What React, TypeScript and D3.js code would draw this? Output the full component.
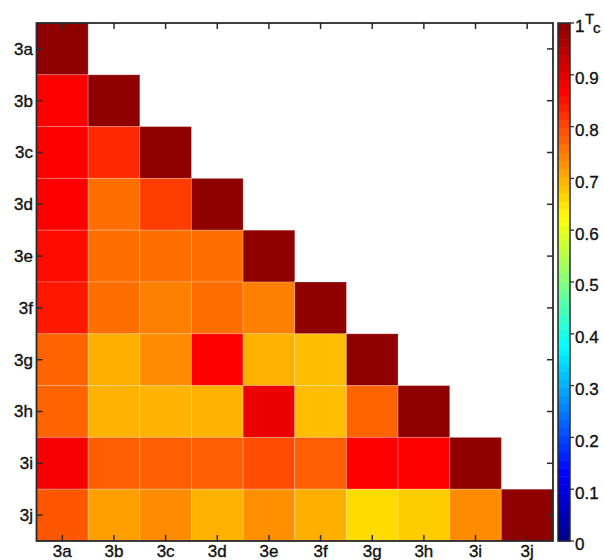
import React from "react";
import * as d3 from "d3";

const labels = ["3a", "3b", "3c", "3d", "3e", "3f", "3g", "3h", "3i", "3j"];

// lower-triangular T_c values, row i has i+1 entries
const row3a = [1];
const row3b = [0.875, 1];
const row3c = [0.875, 0.835, 1];
const row3d = [0.875, 0.767, 0.815, 1];
const row3e = [0.866, 0.767, 0.767, 0.767, 1];
const row3f = [0.852, 0.767, 0.75, 0.767, 0.75, 1];
const row3g = [0.777, 0.703, 0.738, 0.875, 0.7, 0.69, 1];
const row3h = [0.777, 0.7, 0.7, 0.7, 0.895, 0.69, 0.777, 1];
const row3i = [0.882, 0.783, 0.783, 0.783, 0.8, 0.783, 0.875, 0.875, 1];
const row3j = [0.79, 0.718, 0.738, 0.7, 0.733, 0.703, 0.66, 0.675, 0.738, 1];
const rows = [row3a, row3b, row3c, row3d, row3e, row3f, row3g, row3h, row3i, row3j];

const cbTicks = [0, 0.1, 0.2, 0.3, 0.4, 0.5, 0.6, 0.7, 0.8, 0.9, 1];
const cbLabels = ["0", "0.1", "0.2", "0.3", "0.4", "0.5", "0.6", "0.7", "0.8", "0.9", "1"];

const jetStops = [0, 0.125, 0.375, 0.625, 0.875, 1];
const jetColors = ["#00008f", "#0000ff", "#00ffff", "#ffff00", "#ff0000", "#8f0000"];

const W = 604;
const H = 560;
const M = { left: 36.5, top: 23, right: 553, bottom: 541 };
const CB = { x0: 558, x1: 570 };
const FONT = "'Liberation Sans', Arial, Helvetica, sans-serif";
const AXIS = "#2a2a2a";
const TXT = "#111";

export default function App() {
  const x = d3.scaleBand<string>().domain(labels).range([M.left, M.right]).padding(0);
  const y = d3.scaleBand<string>().domain(labels).range([M.top, M.bottom]).padding(0);
  const color = d3
    .scaleLinear<string>()
    .domain(jetStops)
    .range(jetColors)
    .interpolate(d3.interpolateRgb)
    .clamp(true);
  const cy = d3.scaleLinear().domain([0, 1]).range([M.bottom, M.top]);
  const nLevels = 64;
  const levels = d3.range(nLevels);
  const tickLen = 6;
  const textStyle = { fontFamily: FONT, fill: TXT, stroke: TXT, strokeWidth: 0.35 } as const;

  const cells: { r: string; c: string; v: number }[] = [];
  rows.forEach((row, i) => row.forEach((v, j) => cells.push({ r: labels[i], c: labels[j], v })));

  return (
    <svg
      width={W}
      height={H}
      style={{ display: "block", position: "fixed", left: 0, top: 0, background: "#fff" }}
    >
      <rect x={0} y={0} width={W} height={H} fill="#fff" />
      {cells.map((d, k) => (
        <rect
          key={k}
          x={x(d.c)!}
          y={y(d.r)!}
          width={x.bandwidth()}
          height={y.bandwidth()}
          fill={color(d.v)}
          stroke="rgba(255,255,255,0.22)"
          strokeWidth={1}
        />
      ))}
      {labels.map((l) => {
        const cx = x(l)! + x.bandwidth() / 2;
        const cyy = y(l)! + y.bandwidth() / 2;
        return (
          <g key={"t" + l} stroke={AXIS} strokeWidth={1.5}>
            <line x1={cx} x2={cx} y1={M.top} y2={M.top + tickLen} />
            <line x1={cx} x2={cx} y1={M.bottom} y2={M.bottom - tickLen} />
            <line x1={M.left} x2={M.left + tickLen} y1={cyy} y2={cyy} />
            <line x1={M.right} x2={M.right - tickLen} y1={cyy} y2={cyy} />
          </g>
        );
      })}
      <rect
        x={M.left}
        y={M.top}
        width={M.right - M.left}
        height={M.bottom - M.top}
        fill="none"
        stroke={AXIS}
        strokeWidth={1.8}
      />
      {labels.map((l) => (
        <text
          key={"yl" + l}
          x={33}
          y={y(l)! + y.bandwidth() / 2}
          dy="0.35em"
          textAnchor="end"
          fontSize={17}
          style={textStyle}
        >
          {l}
        </text>
      ))}
      {labels.map((l) => (
        <text
          key={"xl" + l}
          x={x(l)! + x.bandwidth() / 2}
          y={557}
          textAnchor="middle"
          fontSize={17}
          style={textStyle}
        >
          {l}
        </text>
      ))}
      {levels.map((i) => (
        <rect
          key={"cb" + i}
          x={CB.x0}
          y={cy((i + 1) / nLevels)}
          width={CB.x1 - CB.x0}
          height={cy(i / nLevels) - cy((i + 1) / nLevels) + 0.5}
          fill={color(i / (nLevels - 1))}
        />
      ))}
      <rect
        x={CB.x0}
        y={M.top}
        width={CB.x1 - CB.x0}
        height={M.bottom - M.top}
        fill="none"
        stroke={AXIS}
        strokeWidth={1.5}
      />
      {cbTicks.map((t, i) => (
        <g key={"cbt" + i}>
          <line x1={CB.x1} x2={CB.x1 + 4} y1={cy(t)} y2={cy(t)} stroke={AXIS} strokeWidth={1.3} />
          <text x={575} y={cy(t) + 3.5} dy="0.35em" fontSize={17} style={textStyle}>
            {cbLabels[i]}
          </text>
        </g>
      ))}
      <text x={585} y={24} fontSize={15} style={textStyle}>
        T
      </text>
      <text x={593} y={33} fontSize={15} style={textStyle}>
        c
      </text>
    </svg>
  );
}
